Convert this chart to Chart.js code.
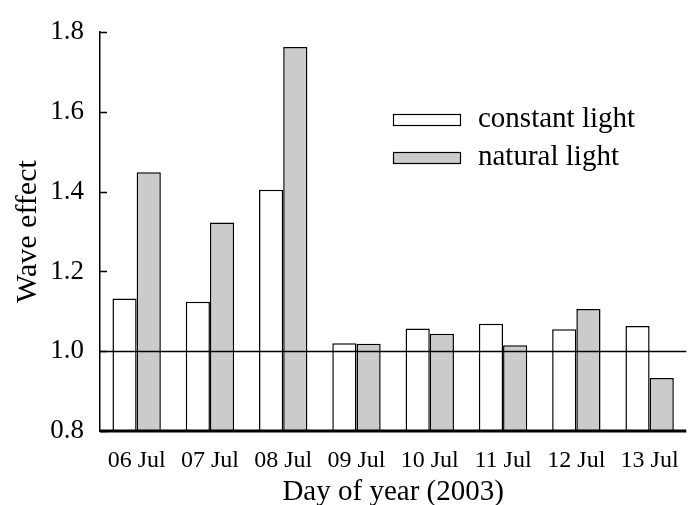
<!DOCTYPE html>
<html>
<head>
<meta charset="utf-8">
<script src="https://cdn.jsdelivr.net/npm/chart.js@4.4.1/dist/chart.umd.min.js"></script>
<style>
  html, body { margin: 0; padding: 0; background: #fff; }
  #wrap { width: 694px; height: 505px; }
</style>
</head>
<body>
<div id="wrap"><canvas id="wave"></canvas></div>
<script>
const days = ["06 Jul", "07 Jul", "08 Jul", "09 Jul", "10 Jul", "11 Jul", "12 Jul", "13 Jul"];
const constantLight = [1.132, 1.124, 1.405, 1.020, 1.057, 1.069, 1.055, 1.063];
const naturalLight = [1.449, 1.323, 1.763, 1.019, 1.044, 1.015, 1.106, 0.933];
const yTicks = [0.8, 1.0, 1.2, 1.4, 1.6, 1.8];
const refLevel = 1.0;

const serif = "'Liberation Serif', 'Times New Roman', serif";

// inward ticks on the left axis, the thick base line, the 1.0 reference line and the legend
const extras = {
    id: "extras",
    afterDatasetsDraw(chart) {
        const ctx = chart.ctx;
        const area = chart.chartArea;
        const y = chart.scales.y;

        ctx.save();
        ctx.strokeStyle = "#000";
        ctx.lineWidth = 1.5;
        yTicks.forEach((v) => {
            const py = Math.round(y.getPixelForValue(v)) + 0.5;
            ctx.beginPath();
            ctx.moveTo(area.left, py);
            ctx.lineTo(area.left + 7, py);
            ctx.stroke();
        });

        const ry = Math.round(y.getPixelForValue(refLevel)) + 0.5;
        ctx.beginPath();
        ctx.moveTo(area.left, ry);
        ctx.lineTo(area.right, ry);
        ctx.stroke();

        ctx.lineWidth = 3;
        ctx.beginPath();
        ctx.moveTo(area.left, area.bottom);
        ctx.lineTo(area.right, area.bottom);
        ctx.stroke();

        ctx.font = "29px " + serif;
        ctx.textBaseline = "middle";
        chart.data.datasets.forEach((ds, i) => {
            const bx = 393, by = 114 + i * 38;
            ctx.fillStyle = ds.backgroundColor;
            ctx.fillRect(bx, by, 67, 11);
            ctx.lineWidth = 1.2;
            ctx.strokeStyle = "#000";
            ctx.strokeRect(bx + 0.5, by + 0.5, 67, 11);
            ctx.fillStyle = "#000";
            ctx.fillText(ds.label, 478, by + 5);
        });
        ctx.restore();
    },
};

new Chart(document.getElementById("wave"), {
    type: "bar",
    data: {
        labels: days,
        datasets: [
            {
                label: "constant light",
                data: constantLight,
                base: 0.8,
                backgroundColor: "#ffffff",
                borderColor: "#000000",
                borderWidth: 1.5,
                categoryPercentage: 0.66,
                barPercentage: 1.0,
            },
            {
                label: "natural light",
                data: naturalLight,
                base: 0.8,
                backgroundColor: "#cbcbcb",
                borderColor: "#000000",
                borderWidth: 1.5,
                categoryPercentage: 0.66,
                barPercentage: 1.0,
            },
        ],
    },
    options: {
        responsive: true,
        maintainAspectRatio: false,
        animation: false,
        layout: {
            padding: { left: 0, right: 6, top: 21, bottom: 0 },
        },
        plugins: {
            legend: { display: false },
            tooltip: { enabled: false },
        },
        scales: {
            x: {
                grid: { display: false, drawTicks: false },
                border: { display: false },
                ticks: {
                    color: "#000",
                    padding: 15,
                    font: { family: serif, size: 24 },
                },
                title: {
                    display: true,
                    text: "Day of year (2003)",
                    color: "#000",
                    font: { family: serif, size: 29, lineHeight: 0.9 },
                    padding: { top: 0, bottom: 0 },
                },
                afterFit(scale) {
                    scale.height = 74;
                },
            },
            y: {
                min: 0.8,
                max: 1.8,
                grid: { display: false, drawTicks: false },
                border: { display: true, color: "#000", width: 1.5 },
                ticks: {
                    stepSize: 0.2,
                    color: "#000",
                    padding: 16,
                    font: { family: serif, size: 27 },
                    callback: (v) => Number(v).toFixed(1),
                },
                title: {
                    display: true,
                    text: "Wave effect",
                    color: "#000",
                    font: { family: serif, size: 30, lineHeight: 1.0 },
                    padding: { top: 13, bottom: 0 },
                },
                afterFit(scale) {
                    scale.width = 100;
                },
            },
        },
    },
    plugins: [extras],
});
</script>
</body>
</html>
